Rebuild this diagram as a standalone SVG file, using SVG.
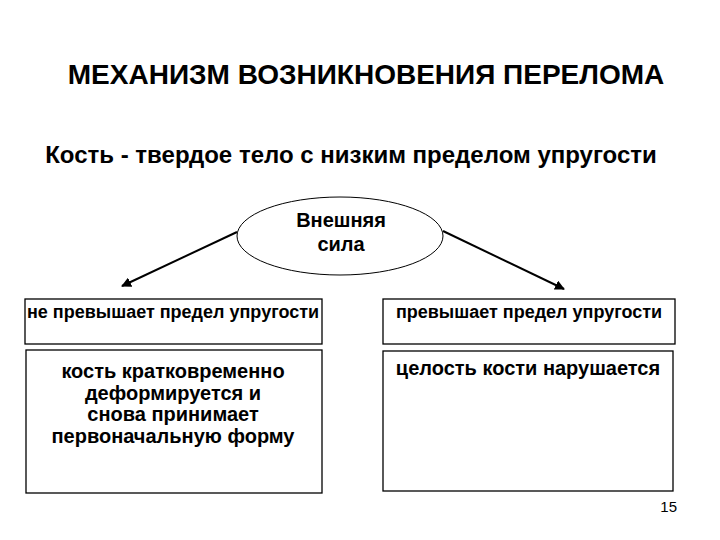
<svg xmlns="http://www.w3.org/2000/svg" width="720" height="540" viewBox="0 0 720 540">
<defs>
<style>
text{font-family:"Liberation Sans",Arial,sans-serif;fill:#000}
.t{font-size:28px;font-weight:bold}
.s{font-size:24px;font-weight:bold}
.b{font-size:20px;font-weight:bold}
.h{font-size:18px;font-weight:bold}
.box{fill:#fff;stroke:#000;stroke-width:1.3}
.ln{stroke:#000;stroke-width:2;fill:none}
</style>
<marker id="ah" viewBox="0 0 10 10" refX="9" refY="5" markerWidth="5" markerHeight="5" orient="auto" markerUnits="strokeWidth">
<path d="M0,0 L10,5 L0,10 Z" fill="#000"/>
</marker>
</defs>
<rect width="720" height="540" fill="#fff"/>
<text class="t" x="366" y="84" text-anchor="middle">МЕХАНИЗМ ВОЗНИКНОВЕНИЯ ПЕРЕЛОМА</text>
<text class="s" x="351" y="163" text-anchor="middle">Кость - твердое тело с низким пределом упругости</text>
<g id="connectors">
<line class="ln" x1="237" y1="232" x2="122" y2="286" marker-end="url(#ah)"/>
<line class="ln" x1="443" y1="231" x2="564" y2="289" marker-end="url(#ah)"/>
</g>
<g id="force">
<ellipse cx="340" cy="236" rx="103" ry="39" fill="#fff" stroke="#000" stroke-width="1"/>
<text class="b" x="341" y="227" text-anchor="middle">Внешняя</text>
<text class="b" x="341" y="251" text-anchor="middle">сила</text>
</g>
<g id="left-head">
<rect class="box" x="25" y="299" width="297" height="45"/>
<text class="h" x="173" y="318" text-anchor="middle">не превышает предел упругости</text>
</g>
<g id="right-head">
<rect class="box" x="383" y="299" width="292" height="45"/>
<text class="h" x="529" y="318" text-anchor="middle">превышает предел упругости</text>
</g>
<g id="left-body">
<rect class="box" x="26" y="350" width="296" height="143"/>
<text class="b" x="173" y="378" text-anchor="middle">кость кратковременно</text>
<text class="b" x="173" y="400" text-anchor="middle">деформируется и</text>
<text class="b" x="173" y="421" text-anchor="middle">снова принимает</text>
<text class="b" x="173" y="443" text-anchor="middle">первоначальную форму</text>
</g>
<g id="right-body">
<rect class="box" x="383" y="351" width="290" height="140"/>
<text class="b" x="528" y="375" text-anchor="middle">целость кости нарушается</text>
</g>
<text x="677" y="512" font-size="15" text-anchor="end">15</text>
</svg>
